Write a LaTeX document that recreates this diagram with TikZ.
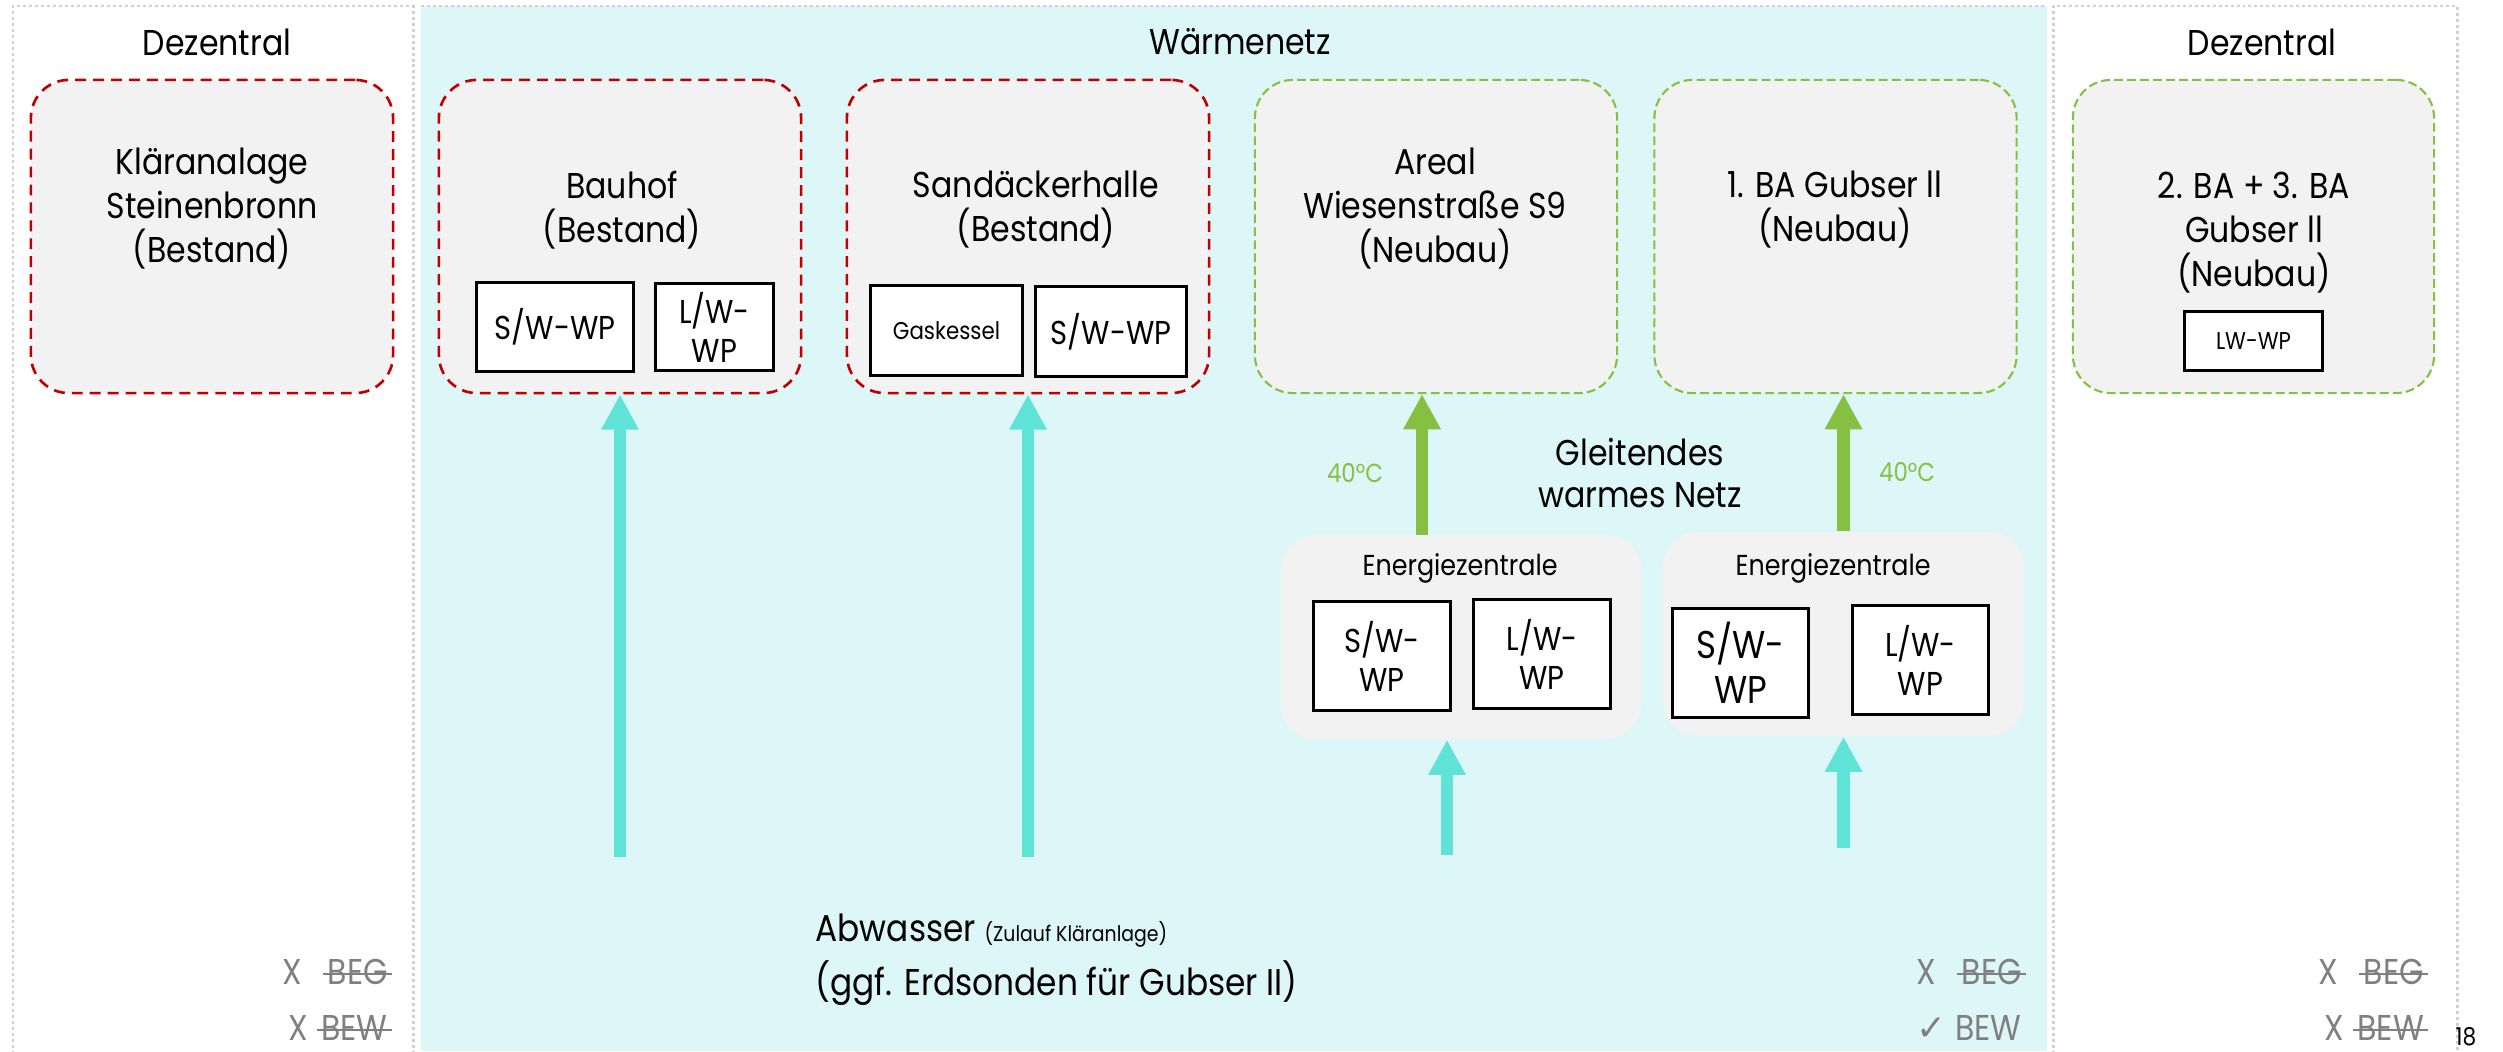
\documentclass[tikz,border=0pt]{standalone}
\usepackage{fontspec}
\setmainfont{Poppins}[FakeStretch=0.88]
\newfontfamily\symfont{DejaVu Sans}
\usetikzlibrary{arrows.meta,positioning,calc}
\definecolor{Aqua}{HTML}{DDF7F8}
\definecolor{Flow}{HTML}{5FE3D6}
\definecolor{Leaf}{HTML}{86C042}
\definecolor{Brick}{HTML}{C00000}
\definecolor{Stone}{HTML}{F2F2F2}
\definecolor{Dots}{HTML}{D0D0D0}
\definecolor{Ash}{HTML}{808080}
\tikzset{
  panel/.style={draw=Dots,line width=0.85pt,dash pattern=on 0.85pt off 0.85pt},
  oldbox/.style={draw=Brick,fill=Stone,rounded corners=10.8pt,line width=0.75pt,dash pattern=on 3.1pt off 2pt,minimum width=3.62cm,minimum height=3.13cm},
  newbox/.style={draw=Leaf,fill=Stone,rounded corners=10.8pt,line width=0.6pt,dash pattern=on 2.5pt off 1.2pt,minimum width=3.62cm,minimum height=3.13cm},
  title/.style={font=\fontsize{10.2}{12.5}\selectfont,align=center,text=black,inner sep=0pt},
  unit/.style={draw=black,fill=white,line width=0.85pt,align=center,font=\fontsize{9.4}{11.1}\selectfont,inner sep=0pt},
  hub/.style={fill=Stone,rounded corners=10pt,minimum width=3.6cm,minimum height=2.04cm},
  feed/.style={-{Triangle[length=10pt,width=10pt]},draw=Flow,line width=3.5pt},
  warm/.style={-{Triangle[length=10pt,width=10pt]},draw=Leaf,line width=3.6pt},
  tag/.style={text=Ash,font=\fontsize{10.2}{12}\selectfont,inner sep=1pt},
  strike/.style={draw=Ash,line width=0.55pt}
}

\begin{document}
\begin{tikzpicture}[x=0.01cm,y=-0.01cm]
  \useasboundingbox (0,0) rectangle (2503,1051);
  \fill[white] (0,0) rectangle (2503,1051);
  \fill[Aqua] (421,6) rectangle (2047,1051);
  \draw[panel] (421,6) -- (2047,6);
  \draw[panel] (13,1060) -- (13,6) -- (413,6) -- (413,1060);
  \draw[panel] (2053,1060) -- (2053,6) -- (2457,6) -- (2457,1060);

  \node[title] (leftHead) at (217,42) {Dezentral};
  \node[title] (netHead) at (1240,42) {Wärmenetz};
  \node[title] (rightHead) at (2262,42) {Dezentral};

  \node[oldbox] (klaer) at (212,236.5) {};
  \node[oldbox] (bauhof) at (620,236.5) {};
  \node[oldbox] (sand) at (1028,236.5) {};
  \node[newbox] (areal) at (1436,236.5) {};
  \node[newbox] (gubserA) at (1835.5,236.5) {};
  \node[newbox,minimum width=3.61cm] (gubserB) at (2253.5,236.5) {};

  \node[title] (klaerText) at (212,209) {Kläranalage\\Steinenbronn\\(Bestand)};
  \node[title] (bauhofText) at (622,210) {Bauhof\\(Bestand)};
  \node[title] (sandText) at (1036,210) {Sandäckerhalle\\(Bestand)};
  \node[title] (arealText) at (1435,209) {Areal\\Wiesenstraße S9\\(Neubau)};
  \node[title] (gubserAText) at (1835,210) {1. BA Gubser ll\\(Neubau)};
  \node[title] (gubserBText) at (2254,233) {2. BA + 3. BA\\Gubser ll\\(Neubau)};

  \node[unit,minimum width=1.56cm,minimum height=0.88cm] (bauhofSW) at (555,327) {S/W-WP};
  \node[unit,minimum width=1.17cm,minimum height=0.86cm] (bauhofLW) at (714.5,327) {L/W-\\WP};
  \node[unit,minimum width=1.51cm,minimum height=0.89cm,font=\fontsize{6.9}{8}\selectfont] (sandGas) at (946.5,330.5) {Gaskessel};
  \node[unit,minimum width=1.50cm,minimum height=0.89cm] (sandSW) at (1111,331.5) {S/W-WP};
  \node[unit,minimum width=1.37cm,minimum height=0.58cm,font=\fontsize{6.9}{8}\selectfont] (gubserBLW) at (2253.5,341) {LW-WP};

  \node[hub] (hubA) at (1461,637) {};
  \node[hub,minimum width=3.61cm] (hubB) at (1843.5,634) {};
  \node[title,font=\fontsize{8.2}{10}\selectfont] (hubAText) at (1460,568) {Energiezentrale};
  \node[title,font=\fontsize{8.2}{10}\selectfont] (hubBText) at (1833,568) {Energiezentrale};
  \node[unit,minimum width=1.36cm,minimum height=1.08cm] (hubASW) at (1382,656) {S/W-\\WP};
  \node[unit,minimum width=1.36cm,minimum height=1.08cm] (hubALW) at (1542,654) {L/W-\\WP};
  \node[unit,minimum width=1.35cm,minimum height=1.08cm,font=\fontsize{11}{12.8}\selectfont] (hubBSW) at (1740.5,663) {S/W-\\WP};
  \node[unit,minimum width=1.35cm,minimum height=1.08cm] (hubBLW) at (1920.5,660) {L/W-\\WP};

  \coordinate (inBauhof) at (620,857);
  \coordinate (inSand) at (1028,857);
  \coordinate (inHubA) at (1447,855);
  \coordinate (inHubB) at (1843.5,848);
  \coordinate (outHubA) at (1422,535);
  \draw[feed] (inBauhof) -- (bauhof.south);
  \draw[feed] (inSand) -- (sand.south);
  \draw[feed] (inHubA) -- (inHubA |- hubA.south);
  \draw[feed] (inHubB) -- (hubB.south);
  \draw[warm] (outHubA) -- (outHubA |- areal.south);
  \draw[warm] (hubB.north) -- (hubB.north |- gubserA.south);

  \node[title,text=Leaf,font=\fontsize{7.4}{9}\selectfont] (tempA) at (1355,473) {40°C};
  \node[title,text=Leaf,font=\fontsize{7.4}{9}\selectfont] (tempB) at (1907,472) {40°C};
  \node[title,font=\fontsize{10.2}{12.2}\selectfont] (slideNet) at (1640,473) {Gleitendes\\warmes Netz};

  \node[title,anchor=west,align=left,font=\fontsize{10.6}{15.4}\selectfont] (source) at (815,960)
    {Abwasser {\fontsize{6.1}{7}\selectfont (Zulauf Kläranlage)}\\(ggf. Erdsonden für Gubser II)};

  \node[tag,anchor=base east] (begL) at (392,984) {BEG};
  \node[tag,anchor=base east] (xBegL) at ([xshift=-5pt]begL.base west) {X};
  \node[tag,anchor=base east] (bewL) at (392,1040) {BEW};
  \node[tag,anchor=base east] (xBewL) at ([xshift=-1.5pt]bewL.base west) {X};
  \node[tag,anchor=base east] (begM) at (2026,984) {BEG};
  \node[tag,anchor=base east] (xBegM) at ([xshift=-5pt]begM.base west) {X};
  \node[tag,anchor=base east] (bewM) at (2026,1040) {BEW};
  \node[tag,anchor=base east] (okBewM) at (bewM.base west) {\symfont ✓};
  \node[tag,anchor=base east] (begR) at (2428,984) {BEG};
  \node[tag,anchor=base east] (xBegR) at ([xshift=-5pt]begR.base west) {X};
  \node[tag,anchor=base east] (bewR) at (2428,1040) {BEW};
  \node[tag,anchor=base east] (xBewR) at ([xshift=-1.5pt]bewR.base west) {X};
  \foreach \w in {begL,bewL,begM,begR,bewR}
    \draw[strike] ([yshift=2.9pt]\w.base west) -- ([yshift=2.9pt]\w.base east);

  \node[anchor=base,inner sep=0pt,font=\fontsize{7}{8}\selectfont] (pageNo) at (2466,1045) {18};
\end{tikzpicture}
\end{document}
